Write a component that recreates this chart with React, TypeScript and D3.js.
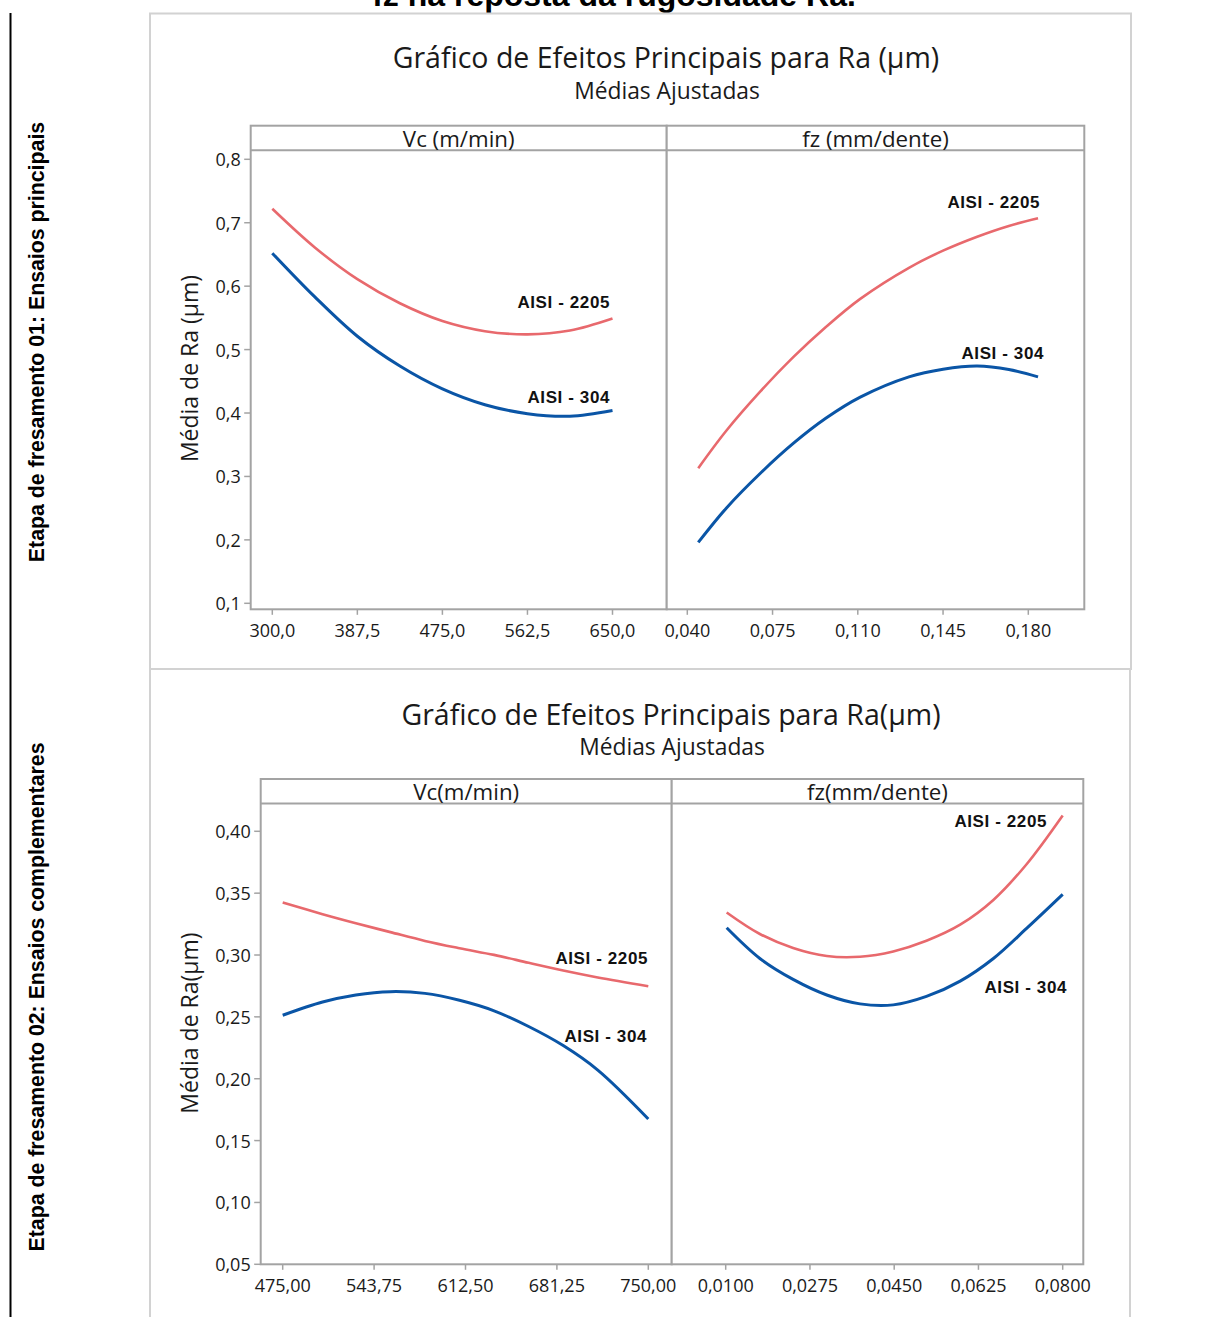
import React from 'react';
import * as d3 from 'd3';

// ---------- Chart 1 (Etapa 01) ----------
const c1Title = 'Gráfico de Efeitos Principais para Ra (µm)';
const c1Subtitle = 'Médias Ajustadas';
const c1YLabel = 'Média de Ra (µm)';
const c1Panels = ['Vc (m/min)', 'fz (mm/dente)'];
const c1YTicks = [0.1, 0.2, 0.3, 0.4, 0.5, 0.6, 0.7, 0.8];
const c1YTickLabels = ['0,1', '0,2', '0,3', '0,4', '0,5', '0,6', '0,7', '0,8'];
const c1VcTicks = [300, 387.5, 475, 562.5, 650];
const c1VcTickLabels = ['300,0', '387,5', '475,0', '562,5', '650,0'];
const c1FzTicks = [0.04, 0.075, 0.11, 0.145, 0.18];
const c1FzTickLabels = ['0,040', '0,075', '0,110', '0,145', '0,180'];

const c1VcX = [300, 343.75, 387.5, 431.25, 475, 518.75, 562.5, 606.25, 650];
const c1Vc2205 = [0.722, 0.661, 0.611, 0.573, 0.545, 0.529, 0.524, 0.53, 0.549];
const c1Vc304 = [0.652, 0.583, 0.521, 0.474, 0.438, 0.413, 0.399, 0.395, 0.404];

const c1FzX = [0.0445, 0.056, 0.07, 0.0835, 0.097, 0.111, 0.131, 0.145, 0.159, 0.172, 0.184];
const c1Fz2205 = [0.313, 0.372, 0.434, 0.488, 0.536, 0.58, 0.629, 0.656, 0.678, 0.695, 0.707];
const c1Fz304 = [0.196, 0.25, 0.305, 0.352, 0.392, 0.425, 0.457, 0.469, 0.474, 0.4686, 0.457];

// ---------- Chart 2 (Etapa 02) ----------
const c2Title = 'Gráfico de Efeitos Principais para Ra(µm)';
const c2Subtitle = 'Médias Ajustadas';
const c2YLabel = 'Média de Ra(µm)';
const c2Panels = ['Vc(m/min)', 'fz(mm/dente)'];
const c2YTicks = [0.05, 0.1, 0.15, 0.2, 0.25, 0.3, 0.35, 0.4];
const c2YTickLabels = ['0,05', '0,10', '0,15', '0,20', '0,25', '0,30', '0,35', '0,40'];
const c2VcTicks = [475, 543.75, 612.5, 681.25, 750];
const c2VcTickLabels = ['475,00', '543,75', '612,50', '681,25', '750,00'];
const c2FzTicks = [0.01, 0.0275, 0.045, 0.0625, 0.08];
const c2FzTickLabels = ['0,0100', '0,0275', '0,0450', '0,0625', '0,0800'];

const c2VcX = [475, 505, 530, 556, 582, 608, 634, 660, 686, 712, 750];
const c2Vc2205 = [0.3424, 0.333, 0.3257, 0.3185, 0.3114, 0.3055, 0.3001, 0.2937, 0.2874, 0.2818, 0.2747];
const c2Vc304 = [0.2513, 0.262, 0.2677, 0.2704, 0.269, 0.2634, 0.2549, 0.2422, 0.2268, 0.207, 0.1675];

const c2FzX = [0.0102, 0.0171, 0.024, 0.031, 0.0379, 0.0448, 0.0517, 0.0587, 0.0656, 0.0725, 0.08];
const c2Fz2205 = [0.3344, 0.317, 0.3057, 0.2992, 0.2986, 0.3029, 0.3115, 0.3245, 0.3445, 0.3734, 0.4128];
const c2Fz304 = [0.322, 0.2972, 0.2803, 0.2677, 0.2605, 0.2597, 0.2665, 0.2789, 0.2972, 0.3215, 0.349];

const seriesNames = ['AISI - 2205', 'AISI - 304'];
const sideLabels = ['Etapa de fresamento 01: Ensaios principais', 'Etapa de fresamento 02: Ensaios complementares'];
const topCaption = 'fz na reposta da rugosidade Ra.';

// ---------- styles ----------
const RED = '#E8696D';
const BLUE = '#0A55A6';
const AXIS = '#a3a3a3';
const TXT = '#1a1a1a';
const FONT = '"Open Sans", "Noto Sans", sans-serif';
const BOLD = '"Liberation Sans", Arial, sans-serif';

type PanelDef = {
  left: number; right: number; x0: number; x1: number;
  ticks: number[]; tickLabels: string[]; xs: number[];
  red: number[]; blue: number[]; title: string;
  redLab: [number, number]; blueLab: [number, number];
};

type ChartDef = {
  title: string; subtitle: string; yLabel: string;
  titleY: number; subY: number; titleX: number; subX: number;
  headTop: number; headBot: number; bottom: number;
  yTicks: number[]; yTickLabels: string[]; yR: [number, number];
  yLabX: number; yLabY: number; xLabY: number;
  panels: PanelDef[];
};

function Chart({ c }: { c: ChartDef }) {
  const y = d3.scaleLinear().domain([c.yTicks[0], c.yTicks[c.yTicks.length - 1]]).range(c.yR);
  const axisLeft = c.panels[0].left;
  return (
    <g>
      <text x={c.titleX} y={c.titleY} textAnchor="middle" dominantBaseline="central" fontFamily={FONT} fontSize={28.5} fill={TXT}>{c.title}</text>
      <text x={c.subX} y={c.subY} textAnchor="middle" dominantBaseline="central" fontFamily={FONT} fontSize={22.8} fill={TXT}>{c.subtitle}</text>
      <text transform={`translate(${c.yLabX},${c.yLabY}) rotate(-90)`} textAnchor="middle" dominantBaseline="central" fontFamily={FONT} fontSize={23} fill={TXT}>{c.yLabel}</text>
      {c.yTicks.map((t, i) => (
        <g key={'yt' + i}>
          <line x1={axisLeft - 6.5} x2={axisLeft} y1={y(t)} y2={y(t)} stroke={AXIS} strokeWidth={1.5} />
          <text x={axisLeft - 10} y={y(t)} textAnchor="end" dominantBaseline="central" fontFamily={FONT} fontSize={18} fill={TXT}>{c.yTickLabels[i]}</text>
        </g>
      ))}
      {c.panels.map((p, pi) => {
        const x = d3.scaleLinear().domain([p.ticks[0], p.ticks[p.ticks.length - 1]]).range([p.x0, p.x1]);
        const line = d3.line<number>().x((_, i) => x(p.xs[i])).y((v) => y(v)).curve(d3.curveCatmullRom.alpha(0.5));
        return (
          <g key={'p' + pi}>
            <rect x={p.left} y={c.headTop} width={p.right - p.left} height={c.bottom - c.headTop} fill="white" stroke={AXIS} strokeWidth={2} />
            <line x1={p.left} x2={p.right} y1={c.headBot} y2={c.headBot} stroke={AXIS} strokeWidth={2} />
            <text x={(p.left + p.right) / 2} y={(c.headTop + c.headBot) / 2} textAnchor="middle" dominantBaseline="central" fontFamily={FONT} fontSize={22.3} fill={TXT}>{p.title}</text>
            {p.ticks.map((t, i) => (
              <g key={'xt' + i}>
                <line x1={x(t)} x2={x(t)} y1={c.bottom} y2={c.bottom + 5.5} stroke={AXIS} strokeWidth={1.5} />
                <text x={x(t)} y={c.xLabY} textAnchor="middle" dominantBaseline="central" fontFamily={FONT} fontSize={18} fill={TXT}>{p.tickLabels[i]}</text>
              </g>
            ))}
            <path d={line(p.red) || ''} fill="none" stroke={RED} strokeWidth={2.6} />
            <path d={line(p.blue) || ''} fill="none" stroke={BLUE} strokeWidth={3} />
            <text x={p.redLab[0]} y={p.redLab[1]} textAnchor="end" dominantBaseline="central" fontFamily={BOLD} fontWeight="bold" fontSize={17} letterSpacing={0.6} fill="#111">{seriesNames[0]}</text>
            <text x={p.blueLab[0]} y={p.blueLab[1]} textAnchor="end" dominantBaseline="central" fontFamily={BOLD} fontWeight="bold" fontSize={17} letterSpacing={0.6} fill="#111">{seriesNames[1]}</text>
          </g>
        );
      })}
    </g>
  );
}

const chart1: ChartDef = {
  title: c1Title, subtitle: c1Subtitle, yLabel: c1YLabel,
  titleX: 666, titleY: 57, subX: 667, subY: 90,
  headTop: 125.7, headBot: 150.3, bottom: 609.3,
  yTicks: c1YTicks, yTickLabels: c1YTickLabels, yR: [603.3, 159.3],
  yLabX: 188.5, yLabY: 368.5, xLabY: 630,
  panels: [
    { left: 250.7, right: 666.7, x0: 272.3, x1: 612.5, ticks: c1VcTicks, tickLabels: c1VcTickLabels, xs: c1VcX, red: c1Vc2205, blue: c1Vc304, title: c1Panels[0], redLab: [610, 302.6], blueLab: [610, 397.9] },
    { left: 666.7, right: 1084.3, x0: 687.3, x1: 1028.3, ticks: c1FzTicks, tickLabels: c1FzTickLabels, xs: c1FzX, red: c1Fz2205, blue: c1Fz304, title: c1Panels[1], redLab: [1040, 202.8], blueLab: [1044, 353.3] },
  ],
};

const chart2: ChartDef = {
  title: c2Title, subtitle: c2Subtitle, yLabel: c2YLabel,
  titleX: 671, titleY: 714, subX: 672, subY: 746,
  headTop: 779, headBot: 803.5, bottom: 1264.3,
  yTicks: c2YTicks, yTickLabels: c2YTickLabels, yR: [1264.3, 831.3],
  yLabX: 188.5, yLabY: 1023, xLabY: 1285,
  panels: [
    { left: 260.7, right: 671.7, x0: 282.7, x1: 648.3, ticks: c2VcTicks, tickLabels: c2VcTickLabels, xs: c2VcX, red: c2Vc2205, blue: c2Vc304, title: c2Panels[0], redLab: [648, 958.4], blueLab: [647, 1036.9] },
    { left: 671.7, right: 1083.3, x0: 725.7, x1: 1062.7, ticks: c2FzTicks, tickLabels: c2FzTickLabels, xs: c2FzX, red: c2Fz2205, blue: c2Fz304, title: c2Panels[1], redLab: [1047, 821.3], blueLab: [1067, 987] },
  ],
};

export default function App() {
  return (
    <svg width={1206} height={1317} viewBox="0 0 1206 1317" style={{ position: 'absolute', left: 0, top: 0, background: 'white' }}>
      <rect x={0} y={0} width={1206} height={1317} fill="white" />
      <text x={614} y={6} textAnchor="middle" fontFamily={BOLD} fontWeight="bold" fontSize={32} fill="#000">{topCaption}</text>
      <line x1={10.5} x2={10.5} y1={13} y2={1317} stroke="#000" strokeWidth={2} />
      <text transform="translate(37,342) rotate(-90)" textAnchor="middle" dominantBaseline="central" fontFamily={BOLD} fontWeight="bold" fontSize={21.3} fill="#000">{sideLabels[0]}</text>
      <text transform="translate(37,997) rotate(-90)" textAnchor="middle" dominantBaseline="central" fontFamily={BOLD} fontWeight="bold" fontSize={21.3} fill="#000">{sideLabels[1]}</text>
      <rect x={150} y={13.5} width={981} height={655.5} fill="white" stroke="#d2d2d2" strokeWidth={2} />
      <rect x={150} y={669} width={980} height={700} fill="white" stroke="#d2d2d2" strokeWidth={2} />
      <Chart c={chart1} />
      <Chart c={chart2} />
    </svg>
  );
}
